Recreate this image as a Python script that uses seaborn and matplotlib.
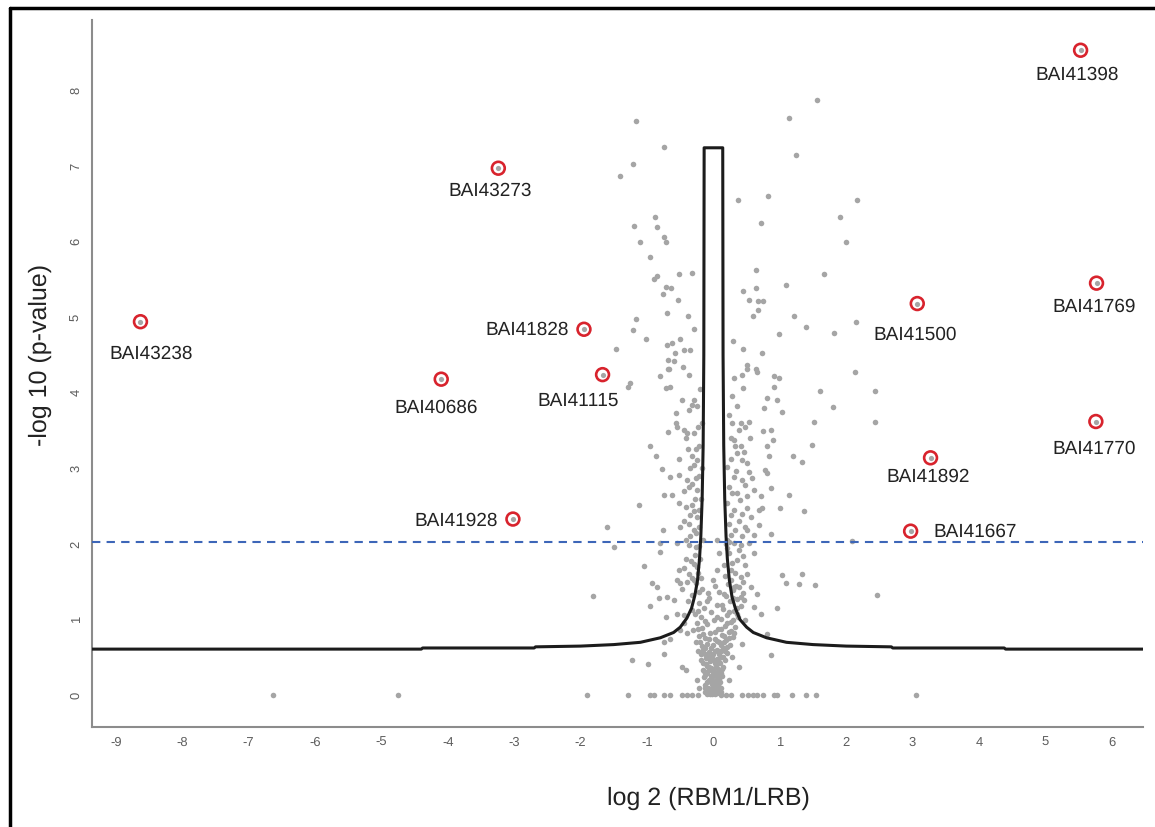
import matplotlib
matplotlib.use("Agg")
import matplotlib.pyplot as plt
from matplotlib.lines import Line2D
import pandas as pd
import seaborn as sns

# gray points: values, (log2 ratio, -log10 p)
zero_row_x = [-6.63, -4.75, -1.91, -1.28, -0.95, -0.90, -0.74, -0.66, -0.48, -0.40,
              -0.32, -0.24, 0.11, 0.19, 0.27, 0.43, 0.52, 0.59, 0.65, 0.75, 0.91,
              0.96, 1.18, 1.39, 1.55, 3.05]

core_pts = [
    (-0.10, 0.02), (-0.06, 0.03), (-0.02, 0.01), (0.02, 0.02), (0.06, 0.03), (-0.04, 0.08),
    (0.00, 0.07), (0.04, 0.09), (-0.08, 0.10), (0.08, 0.11), (-0.12, 0.14), (-0.02, 0.15),
    (0.03, 0.16), (0.10, 0.17), (-0.06, 0.20), (0.06, 0.22), (-0.14, 0.24), (0.00, 0.25),
    (0.13, 0.26), (-0.09, 0.29), (0.04, 0.30), (0.09, 0.33), (-0.16, 0.34), (-0.04, 0.36),
    (0.15, 0.38), (-0.11, 0.41), (0.02, 0.42), (0.08, 0.44), (-0.19, 0.46), (0.18, 0.47),
    (-0.07, 0.50), (0.11, 0.51), (-0.13, 0.54), (0.00, 0.55), (0.21, 0.56), (-0.23, 0.58),
    (0.06, 0.60), (-0.03, 0.62), (0.14, 0.63), (-0.17, 0.65), (0.25, 0.66), (-0.09, 0.68),
    (0.09, 0.70), (-0.27, 0.71), (0.19, 0.73), (0.03, 0.74), (-0.13, 0.76), (0.29, 0.77),
    (-0.21, 0.79), (0.13, 0.80), (-0.05, 0.82), (0.23, 0.84), (-0.31, 0.86), (0.07, 0.87),
    (-0.17, 0.89), (0.33, 0.90), (0.17, 0.92), (-0.09, 0.94), (-0.25, 0.96), (0.27, 0.97),
    (0.01, 0.99), (0.11, 1.01), (-0.19, 1.03), (0.37, 1.04), (0.21, 1.06), (-0.28, 1.08),
    (-0.03, 1.10), (0.31, 1.12), (0.15, 1.14), (-0.14, 1.16), (0.41, 1.18), (0.05, 1.20),
    (-0.22, 1.22), (0.25, 1.24), (0.35, 1.27), (-0.07, 1.29), (0.19, 1.31), (-0.33, 1.33),
    (0.45, 1.35), (0.09, 1.37), (0.29, 1.39), (-0.17, 1.41), (0.39, 1.43), (0.02, 1.45),
    (0.22, 1.47), (-0.26, 1.49), (-0.04, 0.05), (0.05, 0.13), (-0.07, 0.38), (0.12, 0.58),
    (-0.01, 0.31), (0.07, 0.19), (-0.11, 0.06), (0.01, 0.47), (-0.15, 0.60), (0.16, 0.70),
    (0.06, 1.66), (0.08, 1.88), (0.00, 1.52), (-0.08, 1.35), (0.06, 2.05), (0.19, 2.00),
    (0.24, 2.03), (0.21, 1.95), (-0.25, 0.20), (-0.22, 0.09),
    (-0.13, 0.04), (-0.09, 0.05), (-0.05, 0.02), (-0.01, 0.04), (0.03, 0.05), (0.07, 0.06),
    (0.11, 0.04), (-0.12, 0.09), (-0.02, 0.10), (0.02, 0.12), (0.06, 0.14), (0.12, 0.10),
    (-0.10, 0.17), (-0.04, 0.18), (0.00, 0.19), (0.09, 0.21), (-0.12, 0.27), (-0.03, 0.26),
    (0.02, 0.28), (0.07, 0.27), (0.11, 0.30), (-0.14, 0.32), (-0.06, 0.33), (0.00, 0.35),
    (0.05, 0.36), (0.13, 0.35), (-0.09, 0.39), (0.04, 0.40), (0.10, 0.42), (-0.15, 0.43),
    (-0.05, 0.45), (0.06, 0.48), (0.14, 0.50), (-0.11, 0.49), (-0.02, 0.52), (0.09, 0.55),
    (-0.18, 0.55), (0.17, 0.58), (-0.07, 0.57), (0.03, 0.59), (-0.12, 0.63), (0.20, 0.64),
    (0.00, 0.66), (0.11, 0.67), (-0.20, 0.70), (0.06, 0.72), (-0.06, 0.74), (0.23, 0.76),
    (0.16, 0.78), (-0.16, 0.81), (0.02, 0.83), (0.27, 0.85), (-0.23, 0.88), (0.12, 0.88),
    (0.20, 0.96), (-0.12, 0.98), (0.30, 1.00), (0.06, 1.04), (-0.24, 1.12), (0.24, 1.10),
    (0.35, 1.15), (0.13, 1.20), (-0.10, 1.24), (0.30, 1.28), (0.42, 1.30), (0.16, 1.34),
    (-0.21, 1.36), (0.34, 1.44), (0.26, 1.52), (0.44, 1.50), (0.18, 1.58), (0.33, 1.62),
    (0.50, 1.60), (0.28, 1.75), (0.44, 1.84), (0.16, 1.72), (0.38, 1.92), (0.27, 2.12),
    (0.50, 2.18), (0.39, 2.30), (0.26, 2.38), (0.50, 2.48), (0.40, 2.58), (0.28, 2.68),
    (0.47, 2.78), (0.34, 2.96), (0.53, 2.95), (0.26, 3.12), (0.46, 3.22), (0.33, 3.30),
    (0.55, 3.40), (0.47, 3.55), (0.35, 3.82),
]

left_pts = [
    (-1.17, 7.59), (-0.74, 7.25), (-1.21, 7.03), (-1.40, 6.87), (-0.88, 6.33), (-0.85, 6.19),
    (-1.19, 6.21), (-1.11, 5.99), (-0.74, 6.06), (-0.72, 5.99), (-0.95, 5.79), (-0.52, 5.57),
    (-0.32, 5.58), (-0.85, 5.54), (-0.90, 5.50), (-0.72, 5.40), (-0.64, 5.38), (-0.76, 5.30),
    (-0.53, 5.23), (-0.70, 5.06), (-0.39, 5.01), (-1.17, 4.97), (-1.21, 4.83), (-1.02, 4.71),
    (-0.30, 4.85), (-1.47, 4.58), (-0.70, 4.63), (-0.62, 4.66), (-0.51, 4.71), (-0.58, 4.53),
    (-0.44, 4.57), (-0.35, 4.57), (-0.60, 4.42), (-0.67, 4.31), (-0.46, 4.34), (-0.80, 4.22),
    (-0.37, 4.23), (-0.69, 4.44), (-0.68, 4.31), (-0.71, 4.06), (-0.65, 4.07), (-1.28, 4.08),
    (-1.26, 4.13), (-0.56, 3.73), (-0.57, 3.60), (-0.55, 3.55), (-0.30, 3.91), (-0.32, 3.84),
    (-0.25, 3.82), (-0.37, 3.77), (-0.69, 3.48), (-0.45, 3.51), (-0.40, 3.47), (-0.30, 3.47),
    (-0.42, 3.40), (-0.95, 3.29), (-0.87, 3.17), (-0.52, 3.13), (-0.32, 3.16), (-0.25, 3.11),
    (-0.30, 3.05), (-0.78, 2.99), (-0.65, 2.88), (-0.52, 2.91), (-0.40, 2.85), (-0.32, 2.80),
    (-0.37, 2.76), (-0.27, 2.87), (-0.25, 2.72), (-0.75, 2.65), (-0.62, 2.65), (-0.52, 2.54),
    (-0.42, 2.49), (-0.32, 2.52), (-0.30, 2.43), (-0.25, 2.36), (-1.12, 2.51), (-1.60, 2.23),
    (-0.76, 2.19), (-0.50, 2.23), (-0.37, 2.27), (-0.30, 2.18), (-0.22, 2.23), (-1.50, 1.96),
    (-0.80, 2.01), (-0.55, 2.01), (-0.37, 1.99), (-0.27, 1.96), (-0.81, 1.90), (-1.04, 1.71),
    (-0.52, 1.66), (-0.45, 1.68), (-0.37, 1.61), (-0.30, 1.74), (-0.25, 1.70), (-0.92, 1.48),
    (-0.85, 1.43), (-0.55, 1.52), (-0.50, 1.48), (-0.40, 1.50), (-0.30, 1.52), (-1.82, 1.31),
    (-0.82, 1.28), (-0.70, 1.30), (-0.60, 1.26), (-0.95, 1.18), (-0.72, 1.04), (-0.55, 1.08),
    (-0.45, 1.06), (-0.32, 1.13), (-1.23, 0.47), (-0.99, 0.41), (-0.74, 0.55), (-0.75, 0.71),
    (-0.65, 0.75), (-0.50, 0.86), (-0.40, 0.82), (-0.47, 0.38), (-0.42, 0.33), (-0.18, 1.55),
    (-0.20, 1.80), (-0.16, 2.05), (-0.19, 2.60), (-0.17, 3.00), (-0.21, 3.30), (-0.17, 3.60),
    (-0.45, 2.30), (-0.35, 2.10), (-0.28, 1.85), (-0.42, 1.80), (-0.33, 1.55), (-0.48, 1.40),
    (-0.38, 1.25), (-0.44, 0.95),
    (-0.23, 1.62), (-0.34, 1.77), (-0.22, 1.98), (-0.41, 2.05), (-0.27, 2.15), (-0.21, 2.45),
    (-0.35, 2.38), (-0.28, 2.60), (-0.45, 2.70), (-0.22, 2.90), (-0.35, 3.00), (-0.26, 3.25),
    (-0.38, 3.25), (-0.24, 3.55), (-0.47, 3.90), (-0.20, 4.05),
]

right_pts = [
    (1.14, 7.64), (1.56, 7.87), (1.25, 7.14), (0.37, 6.55), (0.82, 6.60), (2.16, 6.55),
    (1.90, 6.33), (2.00, 6.00), (0.71, 6.24), (0.64, 5.62), (1.09, 5.42), (1.66, 5.57),
    (0.45, 5.34), (0.64, 5.38), (0.54, 5.23), (0.67, 5.21), (0.74, 5.22), (0.67, 5.09),
    (0.59, 5.01), (1.22, 5.01), (1.39, 4.87), (0.99, 4.78), (1.81, 4.79), (2.15, 4.93),
    (0.30, 4.68), (0.45, 4.58), (0.73, 4.52), (0.50, 4.37), (0.50, 4.32), (0.64, 4.32),
    (0.65, 4.27), (0.43, 4.23), (0.31, 4.20), (0.91, 4.22), (0.98, 4.20), (2.13, 4.27),
    (2.44, 4.02), (2.44, 3.61), (2.09, 2.04), (0.28, 3.96), (0.45, 4.06), (0.53, 3.61),
    (0.76, 3.80), (0.80, 3.93), (0.91, 4.07), (0.96, 3.91), (1.04, 3.75), (1.60, 4.02),
    (1.80, 3.81), (1.51, 3.61), (1.49, 3.31), (1.20, 3.16), (1.34, 3.09), (1.14, 2.65),
    (1.00, 2.47), (1.37, 2.43), (0.23, 3.71), (0.28, 3.60), (0.41, 3.60), (0.38, 3.51),
    (0.26, 3.40), (0.31, 3.38), (0.41, 3.29), (0.36, 3.20), (0.43, 3.11), (0.51, 3.07),
    (0.75, 3.49), (0.86, 3.51), (0.89, 3.38), (0.81, 3.29), (0.84, 3.16), (0.77, 2.98),
    (0.81, 2.94), (0.86, 2.74), (0.71, 2.63), (0.73, 2.47), (0.68, 2.45), (0.48, 2.23),
    (0.68, 2.25), (0.87, 2.13), (0.61, 2.12), (0.43, 2.10), (0.21, 3.02), (0.31, 2.89),
    (0.43, 2.85), (0.58, 2.87), (0.23, 2.76), (0.36, 2.67), (0.51, 2.63), (0.61, 2.72),
    (0.21, 2.54), (0.31, 2.45), (0.43, 2.40), (0.56, 2.36), (0.23, 2.27), (0.33, 2.19),
    (0.21, 2.05), (0.31, 2.01), (0.41, 1.99), (0.53, 2.01), (0.61, 1.88), (0.23, 1.88),
    (0.36, 1.79), (0.48, 1.72), (0.26, 1.66), (0.41, 1.57), (0.56, 1.43), (0.66, 1.34),
    (0.31, 1.43), (0.46, 1.26), (0.61, 1.17), (0.71, 1.08), (0.36, 1.08), (0.48, 0.99),
    (0.31, 0.82), (0.43, 0.68), (0.28, 0.51), (0.38, 0.38), (0.23, 0.20), (1.03, 1.59),
    (1.33, 1.61), (1.10, 1.49), (1.29, 1.47), (1.53, 1.46), (0.96, 1.16), (0.87, 0.53),
    (0.81, 0.81), (2.47, 1.32),
]

# highlighted proteins
hit_names = ["BAI41398", "BAI43273", "BAI41769", "BAI41500", "BAI43238", "BAI41828",
             "BAI40686", "BAI41115", "BAI41770", "BAI41892", "BAI41928", "BAI41667"]
hit_x = [5.53, -3.24, 5.77, 3.07, -8.63, -1.95, -4.10, -1.67, 5.76, 3.27, -3.02, 2.97]
hit_y = [8.53, 6.97, 5.45, 5.18, 4.94, 4.84, 4.18, 4.24, 3.62, 3.14, 2.33, 2.17]

# threshold curve
curve_x = [-9.36, -4.40, -4.38, -2.70, -2.68, -2.0, -1.5, -1.1, -0.8, -0.6, -0.5, -0.4,
           -0.33, -0.28, -0.24, -0.21, -0.19, -0.17, -0.155, -0.145, -0.14, 0.14, 0.145,
           0.155, 0.17, 0.19, 0.21, 0.24, 0.28, 0.33, 0.40, 0.5, 0.6, 0.8, 1.1, 1.5, 2.0,
           2.68, 2.70, 4.38, 4.40, 6.47]
curve_y = [0.61, 0.61, 0.625, 0.625, 0.64, 0.65, 0.67, 0.70, 0.76, 0.83, 0.90, 1.02,
           1.15, 1.32, 1.52, 1.80, 2.10, 2.60, 3.30, 4.5, 7.24, 7.24, 4.5,
           3.3, 2.6, 2.1, 1.8, 1.52, 1.30, 1.15, 1.0, 0.9, 0.83, 0.76, 0.70, 0.67, 0.65,
           0.64, 0.625, 0.625, 0.61, 0.61]
p_cutoff = 2.02

# label offsets from the point, in pixels
label_off = {
    "BAI41398": (-3, -25), "BAI43273": (-8, -23), "BAI41769": (-2, -24),
    "BAI41500": (-2, -31), "BAI43238": (11, -32), "BAI41828": (-57, -1),
    "BAI40686": (-5, -29), "BAI41115": (-24, -26), "BAI41770": (-2, -27),
    "BAI41892": (-2, -19), "BAI41928": (-57, -2), "BAI41667": (65, -1),
}

pts = [(x, 0.0) for x in zero_row_x] + core_pts + left_pts + right_pts
gray = pd.DataFrame(pts, columns=["lfc", "nlp"])
hits = pd.DataFrame({"name": hit_names, "lfc": hit_x, "nlp": hit_y})

sns.set_style("white")
plt.rcParams["font.family"] = ["Liberation Sans", "DejaVu Sans"]
plt.rcParams["axes.unicode_minus"] = False
plt.rcParams["text.hinting"] = "no_hinting"
plt.rcParams["text.hinting_factor"] = 1

fig = plt.figure(figsize=(11.55, 8.27), dpi=100)
ax = fig.add_axes([92 / 1155, 1 - 727 / 827, (1143 - 92) / 1155, (727 - 20) / 827])

sns.scatterplot(data=gray, x="lfc", y="nlp", ax=ax, color="#a5a5a5", s=16,
                linewidth=0, zorder=2)
sns.scatterplot(data=hits, x="lfc", y="nlp", ax=ax, color="#a5a5a5", s=14,
                linewidth=0, zorder=3)
sns.scatterplot(data=hits, x="lfc", y="nlp", ax=ax, facecolor="none",
                edgecolor="#d8232d", s=85, linewidth=1.9, zorder=4)

ax.plot(curve_x, curve_y, color="#1c1c1c", lw=2.2, zorder=5)
ax.axhline(p_cutoff, color="#3d66b8", lw=1.5, ls=(0, (4, 3)), zorder=5)

for name, x, y in zip(hit_names, hit_x, hit_y):
    dx, dy = label_off[name]
    ax.annotate(name, (x, y), xytext=(dx, dy), textcoords="offset pixels",
                ha="center", va="center", fontsize=14, color="#222222", zorder=6)

ax.set_xlim(-9.36, 6.47)
ax.set_ylim(-0.42, 8.93)
ax.set_xticks(range(-9, 7))
ax.set_yticks(range(0, 9))
ax.set_xlabel("")
ax.set_ylabel("")
for lab in ax.get_yticklabels():
    lab.set_rotation(90)
    lab.set_va("center")
ax.tick_params(direction="out", length=5, width=1.2, color="#7a7a7a",
               labelcolor="#5e5e5e", labelsize=9, pad=2)
for side in ["top", "right"]:
    ax.spines[side].set_visible(False)
for side in ["left", "bottom"]:
    ax.spines[side].set_color("#8c8c8c")
    ax.spines[side].set_linewidth(1.5)

fig.text(708 / 1155, 1 - 798 / 827, "log 2 (RBM1/LRB)", ha="center", va="center",
         fontsize=18, color="#222222")
fig.text(40 / 1155, 1 - 355 / 827, "-log 10 (p-value)", ha="center", va="center",
         rotation=90, fontsize=18, color="#222222")

# outer frame (left and top edges visible in the picture)
fig.add_artist(Line2D([9.5 / 1155, 9.5 / 1155], [0, 1 - 7.5 / 827], color="black", lw=2.5))
fig.add_artist(Line2D([9.5 / 1155, 1], [1 - 7.5 / 827, 1 - 7.5 / 827], color="black", lw=2.5))

fig.savefig("out.png", dpi=100)
